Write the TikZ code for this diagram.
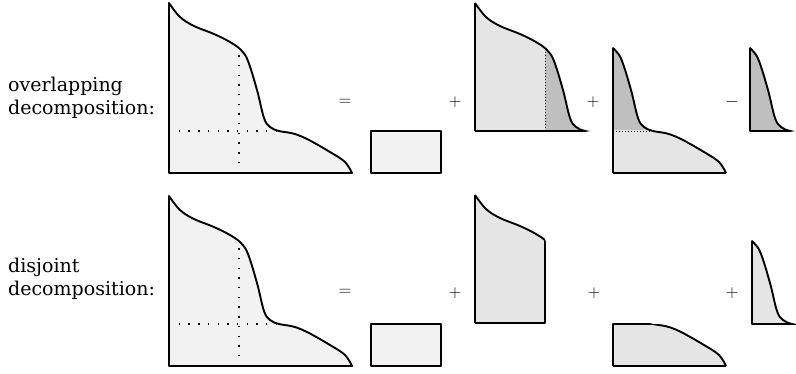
\documentclass[tikz,border=0pt]{standalone}
\usepackage{fontspec}
\usepackage{tikz}
\usetikzlibrary{positioning}

\newfontfamily\labelfont{DejaVu Serif}

\definecolor{paleshade}{gray}{0.95}
\definecolor{lightshade}{gray}{0.9}
\definecolor{darkshade}{gray}{0.75}

\newcommand{\profilecurve}{plot[smooth, tension=0.6] coordinates {(0,170) (11,156) (25,147) (45,139) (61,131) (72,123) (79,112) (88,83) (95,55) (101,46) (110,42) (124,39.5) (138,34) (161,21) (176,11) (183,0)}}
\newcommand{\curvepath}{\profilecurve -- (0,0) -- cycle}

\newcommand{\piecefill}[5]{%
  \begin{scope}
    \clip (#2,#3) rectangle (#4,#5);
    \fill[#1] \curvepath;
  \end{scope}}

\newcommand{\pieceoutline}[4]{%
  \begin{scope}
    \clip (#1,#2) rectangle (#3,#4);
    \draw[outline] \profilecurve;
  \end{scope}
  \begin{scope}
    \clip \curvepath;
    \draw[outline] (#1,#2) rectangle (#3,#4);
  \end{scope}}

\begin{document}
\begin{tikzpicture}[
    x=1pt, y=1pt,
    outline/.style={line width=1.9pt, line join=round},
    sparsedots/.style={line width=1.4pt, dash pattern=on 1.4pt off 8.3pt},
    finedots/.style={line width=0.9pt, dash pattern=on 0.9pt off 2.1pt},
    label/.style={font=\labelfont\fontsize{19}{23.3}\selectfont, align=left, inner sep=0pt},
    op/.style={font=\fontsize{17}{19}\selectfont, inner sep=0pt}
  ]
    \useasboundingbox (0,0) rectangle (796,373);

    \node[label, anchor=west] (overlap) at (8,275.3) {overlapping\\decomposition:};
    \node[label, anchor=west] (disjoint) at (8,94) {disjoint\\decomposition:};

    % overlapping decomposition
    \begin{scope}[shift={(169,200)}]
      \fill[paleshade] \curvepath;
      \begin{scope}
        \clip \curvepath;
        \draw[sparsedots] (70,0) -- (70,200);
        \draw[sparsedots] (0,42) -- (200,42);
      \end{scope}
      \draw[outline] \curvepath;
    \end{scope}
    \node[op] (eqtop) at (345,271) {$=$};
    \draw[outline, fill=paleshade] (371,200) rectangle +(70,42);
    \node[op] (plustopa) at (455,271) {$+$};
    \begin{scope}[shift={(475,200)}]
      \piecefill{lightshade}{0}{42}{70}{200}
      \piecefill{darkshade}{70}{42}{200}{200}
      \begin{scope}
        \clip \curvepath;
        \draw[finedots] (70,42) -- (70,200);
      \end{scope}
      \pieceoutline{0}{42}{200}{200}
      \draw[outline] (0,42) -- (0,170);
    \end{scope}
    \node[op] (plustopb) at (593,271) {$+$};
    \begin{scope}[shift={(543,200)}]
      \piecefill{darkshade}{70}{42}{200}{200}
      \piecefill{lightshade}{70}{0}{200}{42}
      \begin{scope}
        \clip \curvepath;
        \draw[finedots] (70,42) -- (200,42);
      \end{scope}
      \pieceoutline{70}{0}{200}{200}
      \draw[outline] (70,0) -- (183,0);
    \end{scope}
    \node[op] (minustop) at (732,271) {$-$};
    \begin{scope}[shift={(680,200)}]
      \piecefill{darkshade}{70}{42}{200}{200}
      \pieceoutline{70}{42}{200}{200}
    \end{scope}

    % disjoint decomposition
    \begin{scope}[shift={(169,7)}]
      \fill[paleshade] \curvepath;
      \begin{scope}
        \clip \curvepath;
        \draw[sparsedots] (70,0) -- (70,200);
        \draw[sparsedots] (0,42) -- (200,42);
      \end{scope}
      \draw[outline] \curvepath;
    \end{scope}
    \node[op] (eqbot) at (345,81) {$=$};
    \draw[outline, fill=paleshade] (371,7) rectangle +(70,42);
    \node[op] (plusbota) at (455,80) {$+$};
    \begin{scope}[shift={(475,8)}]
      \piecefill{lightshade}{0}{42}{70}{200}
      \pieceoutline{0}{42}{70}{200}
      \draw[outline] (0,42) -- (0,170);
    \end{scope}
    \node[op] (plusbotb) at (594,80) {$+$};
    \begin{scope}[shift={(543,7)}]
      \piecefill{lightshade}{70}{0}{200}{42}
      \pieceoutline{70}{0}{200}{42}
      \draw[outline] (70,0) -- (183,0);
    \end{scope}
    \node[op] (plusbotc) at (732,80) {$+$};
    \begin{scope}[shift={(682,7)}]
      \piecefill{lightshade}{70}{42}{200}{200}
      \pieceoutline{70}{42}{200}{200}
    \end{scope}
  \end{tikzpicture}
\end{document}
